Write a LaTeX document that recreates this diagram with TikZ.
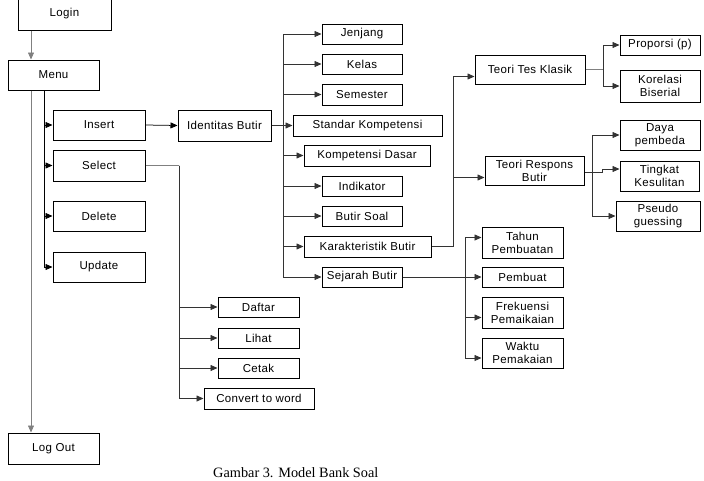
\documentclass[tikz,border=0pt]{standalone}
\usepackage{fontspec}
\setmainfont{Liberation Sans}
\newfontfamily\labfont[LetterSpace=3]{Liberation Sans}
\newfontfamily\capfont{Liberation Serif}
\usetikzlibrary{arrows.meta,shadows}
\begin{document}
\begin{tikzpicture}[x=1pt,y=-1pt,
  box/.style={draw=black, line width=1pt, fill=white, inner sep=0pt, align=center,
    font=\labfont\fontsize{11.5}{13}\selectfont,
    drop shadow={shadow xshift=1.1pt, shadow yshift=-1.1pt, fill=black, opacity=1}},
  conn/.style={draw=black!80, line width=0.75pt},
  gconn/.style={draw=black!50, line width=0.75pt},
  arr/.style={conn, -{Triangle[length=7pt,width=6pt]}},
  garr/.style={gconn, -{Triangle[length=7pt,width=6pt]}}
]
\useasboundingbox (0,0) rectangle (704,480);
% boxes
\node[box, minimum width=93pt, minimum height=32pt] (login) at (64.5,14) {Login};
\node[box, minimum width=91pt, minimum height=30pt] (menu) at (53.5,75) {Menu};
\node[box, minimum width=92pt, minimum height=30pt] (insert) at (99,125) {Insert};
\node[box, minimum width=92pt, minimum height=31pt] (select) at (99,165.5) {Select};
\node[box, minimum width=92pt, minimum height=30pt] (delete) at (99,216) {Delete};
\node[box, minimum width=92pt, minimum height=30pt] (update) at (99,267) {Update};
\node[box, minimum width=91pt, minimum height=31pt] (logout) at (53.5,448.5) {Log Out};
\node[box, minimum width=93pt, minimum height=31pt] (ident) at (224.5,125.5) {Identitas Butir};
\node[box, minimum width=80pt, minimum height=20pt] (jenjang) at (362,34) {Jenjang};
\node[box, minimum width=80pt, minimum height=20pt] (kelas) at (362,64) {Kelas};
\node[box, minimum width=80pt, minimum height=21pt] (semester) at (362,94.5) {Semester};
\node[box, minimum width=149pt, minimum height=21pt] (standar) at (367.5,125.5) {Standar Kompetensi};
\node[box, minimum width=126pt, minimum height=21pt] (kd) at (367,155.5) {Kompetensi Dasar};
\node[box, minimum width=80pt, minimum height=20pt] (indikator) at (362,186) {Indikator};
\node[box, minimum width=80pt, minimum height=20pt] (butirsoal) at (362,216) {Butir Soal};
\node[box, minimum width=127pt, minimum height=21pt] (karakter) at (367.5,246.5) {Karakteristik Butir};
\node[box, minimum width=80pt, minimum height=20pt] (sejarah) at (362,277) {Sejarah Butir};
\node[box, minimum width=110pt, minimum height=29pt] (ttk) at (530,69.5) {Teori Tes Klasik};
\node[box, minimum width=99pt, minimum height=29pt] (trb) at (534.5,170.5) {Teori Respons\\Butir};
\node[box, minimum width=80pt, minimum height=20pt] (proporsi) at (660,45) {Proporsi (p)};
\node[box, minimum width=80pt, minimum height=32pt] (korelasi) at (660,86) {Korelasi\\Biserial};
\node[box, minimum width=80pt, minimum height=30pt] (daya) at (660,135) {Daya\\pembeda};
\node[box, minimum width=79pt, minimum height=30pt] (tingkat) at (659.5,176) {Tingkat\\Kesulitan};
\node[box, minimum width=84pt, minimum height=30pt] (pseudo) at (658,216) {Pseudo\\guessing};
\node[box, minimum width=81pt, minimum height=31pt] (tahun) at (522.5,242.5) {Tahun\\Pembuatan};
\node[box, minimum width=81pt, minimum height=20pt] (pembuat) at (522.5,277) {Pembuat};
\node[box, minimum width=81pt, minimum height=31pt] (frek) at (522.5,312.5) {Frekuensi\\Pemaikaian};
\node[box, minimum width=81pt, minimum height=30pt] (waktu) at (522.5,353) {Waktu\\Pemakaian};
\node[box, minimum width=81pt, minimum height=20pt] (daftar) at (258.5,307) {Daftar};
\node[box, minimum width=81pt, minimum height=20pt] (lihat) at (258.5,338) {Lihat};
\node[box, minimum width=81pt, minimum height=20pt] (cetak) at (258.5,368) {Cetak};
\node[box, minimum width=110pt, minimum height=21pt] (convert) at (259,398.5) {Convert to word};
\node[font=\capfont\fontsize{14.3}{16}\selectfont, anchor=base west, inner sep=0pt] (caption) at (213,477) {Gambar 3. Model Bank Soal};
% trunk coordinates
\coordinate (tL) at (31,0);
\coordinate (tM) at (44,0);
\coordinate (tI) at (283,0);
\coordinate (tS) at (179,0);
\coordinate (tK) at (453,0);
\coordinate (tT) at (603,0);
\coordinate (tR) at (592,0);
\coordinate (tJ) at (465,0);
% connectors
\draw[garr] (login.south -| tL) -- (menu.north -| tL);
\draw[garr] (menu.south -| tL) -- (logout.north -| tL);
\draw[arr, draw=black] (menu.south -| tM) |- (insert.west);
\draw[arr, draw=black] (menu.south -| tM) |- (select.west);
\draw[arr, draw=black] (menu.south -| tM) |- (delete.west);
\draw[arr, draw=black] (menu.south -| tM) |- (update.west);
\draw[arr, draw=black] (insert.east) -- (ident.west);
% identitas children
\draw[conn] (ident.east) -- (ident.east -| tI);
\draw[arr] (ident.east -| tI) |- (jenjang.west);
\draw[arr] (ident.east -| tI) |- (kelas.west);
\draw[arr] (ident.east -| tI) |- (semester.west);
\draw[arr] (ident.east) -- (standar.west);
\draw[arr] (ident.east -| tI) |- (kd.west);
\draw[arr] (ident.east -| tI) |- (indikator.west);
\draw[arr] (ident.east -| tI) |- (butirsoal.west);
\draw[arr] (ident.east -| tI) |- (karakter.west);
\draw[arr] (ident.east -| tI) |- (sejarah.west);
% karakteristik
\draw[conn] (karakter.east) -- (karakter.east -| tK);
\draw[arr] (karakter.east -| tK) |- ([yshift=-7pt]ttk.west);
\draw[arr] (karakter.east -| tK) |- ([yshift=-7pt]trb.west);
% teori tes klasik
\draw[gconn] (ttk.east) -- (ttk.east -| tT);
\draw[arr] (ttk.east -| tT) |- (proporsi.west);
\draw[arr] (ttk.east -| tT) |- (korelasi.west);
% teori respons butir
\draw[conn] ([yshift=-2pt]trb.east) -- ([yshift=-2pt]trb.east -| tR);
\draw[arr] ([yshift=-2pt]trb.east -| tR) |- (daya.west);
\draw[arr] ([yshift=-2pt]trb.east -| tR) |- (pseudo.west);
\draw[arr] ([yshift=-2pt]trb.east -| tR) -- ++(10,0) |- ([yshift=7pt]tingkat.west);
% sejarah
\draw[arr] (sejarah.east) -- (pembuat.west);
\draw[arr] (sejarah.east -| tJ) |- ([yshift=5pt]tahun.west);
\draw[arr] (sejarah.east -| tJ) |- ([yshift=-5pt]frek.west);
\draw[arr] (sejarah.east -| tJ) |- ([yshift=-5pt]waktu.west);
% select
\draw[gconn] (select.east) -- (select.east -| tS);
\draw[arr] (select.east -| tS) |- (daftar.west);
\draw[arr] (select.east -| tS) |- (lihat.west);
\draw[arr] (select.east -| tS) |- (cetak.west);
\draw[arr] (select.east -| tS) |- (convert.west);
\end{tikzpicture}
\end{document}
